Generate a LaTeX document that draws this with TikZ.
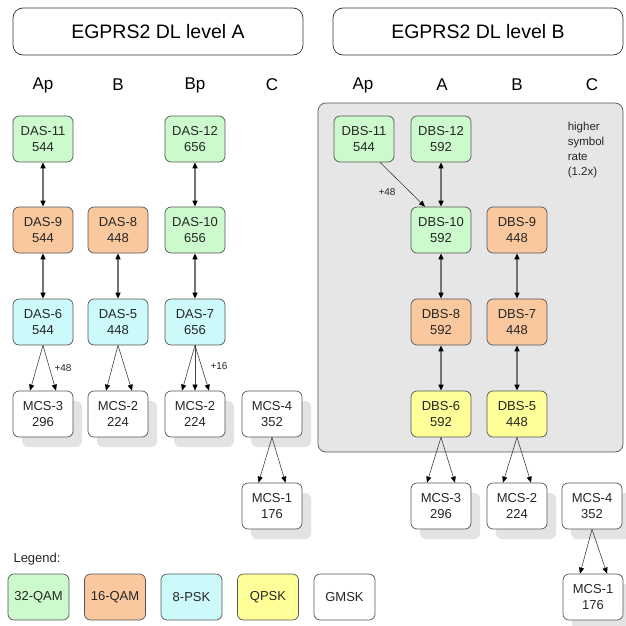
\documentclass[tikz,border=0pt]{standalone}
\usepackage{fontspec}
\setmainfont{Liberation Sans}
\usetikzlibrary{arrows.meta,shadows}

\definecolor{qamhi}{RGB}{204,250,204}
\definecolor{qamlo}{RGB}{250,200,158}
\definecolor{pskcol}{RGB}{204,250,250}
\definecolor{qpskcol}{RGB}{255,255,153}
\definecolor{panel}{RGB}{230,230,230}
\definecolor{rim}{RGB}{85,85,85}

\tikzset{
    cbox/.style={draw=rim, line width=0.7pt, rounded corners=6pt, minimum width=60pt,
        minimum height=46pt, align=center, text=black!85,
        font=\fontsize{13}{15.5}\selectfont},
    mcsbox/.style={cbox, fill=white,
        drop shadow={shadow xshift=9pt, shadow yshift=-10pt, fill=black!11, opacity=1}},
    titlebox/.style={draw=black!80, line width=0.7pt, rounded corners=10pt,
        minimum width=290pt, minimum height=47pt, font=\fontsize{19.5}{23}\selectfont},
    colhead/.style={font=\fontsize{17}{20}\selectfont},
    dbl/.style={<->, draw=black!55, line width=1.4pt},
    split/.style={->, draw=black!75, line width=0.6pt},
    gain/.style={font=\fontsize{10}{12}\selectfont, text=black!85}
}

\begin{document}
\begin{tikzpicture}[x=1pt, y=-1pt, >={Triangle[length=6pt,width=5pt,color=black]}]
        \useasboundingbox (0,0) rectangle (625,626);

        % titulos e colunas
        \node[titlebox] (tA) at (158,31.5) {EGPRS2 DL level A};
        \node[titlebox] (tB) at (478,31.5) {EGPRS2 DL level B};

        \node[colhead] (hAp) at (43,85) {Ap};
        \node[colhead] (hB) at (118,85) {B};
        \node[colhead] (hBp) at (195,85) {Bp};
        \node[colhead] (hC) at (272,85) {C};

        \node[colhead] (kAp) at (363,85) {Ap};
        \node[colhead] (kA) at (442,85) {A};
        \node[colhead] (kB) at (517,85) {B};
        \node[colhead] (kC) at (592,85) {C};

        \node[draw=rim, line width=0.7pt, fill=panel, rounded corners=8pt,
            minimum width=305pt, minimum height=349pt] (rate) at (470.5,277.5) {};
        \node[align=left, font=\fontsize{11.5}{15}\selectfont, text=black!85] (hint) at (586,150.5)
            {higher\\symbol\\rate\\(1.2x)};

        % level A
        \node[cbox, fill=qamhi] (d11) at (43,139) {DAS-11\\544};
        \node[cbox, fill=qamhi] (d12) at (195,139) {DAS-12\\656};
        \node[cbox, fill=qamlo] (d9) at (43,230) {DAS-9\\544};
        \node[cbox, fill=qamlo] (d8) at (118,230) {DAS-8\\448};
        \node[cbox, fill=qamhi] (d10) at (195,230) {DAS-10\\656};
        \node[cbox, fill=pskcol] (d6) at (43,322) {DAS-6\\544};
        \node[cbox, fill=pskcol] (d5) at (118,322) {DAS-5\\448};
        \node[cbox, fill=pskcol] (d7) at (195,322) {DAS-7\\656};

        \node[mcsbox] (m3a) at (43,414) {MCS-3\\296};
        \node[mcsbox] (m2a) at (118,414) {MCS-2\\224};
        \node[mcsbox] (m2b) at (195,414) {MCS-2\\224};
        \node[mcsbox] (m4a) at (272,414) {MCS-4\\352};
        \node[mcsbox] (m1a) at (272,506) {MCS-1\\176};

        \draw[dbl] (d11) -- (d9);
        \draw[dbl] (d9) -- (d6);
        \draw[dbl] (d8) -- (d5);
        \draw[dbl] (d12) -- (d10);
        \draw[dbl] (d10) -- (d7);

        \draw[split] (d6.south) -- ([xshift=-13pt]m3a.north);
        \draw[split] (d6.south) -- ([xshift=13pt]m3a.north);
        \draw[split] (d5.south) -- ([xshift=-12pt]m2a.north);
        \draw[split] (d5.south) -- ([xshift=14pt]m2a.north);
        \draw[split] (d7.south) -- ([xshift=-13pt]m2b.north);
        \draw[split] (d7.south) -- (m2b.north);
        \draw[split] (d7.south) -- ([xshift=14pt]m2b.north);
        \draw[split] (m4a.south) -- ([xshift=-13.5pt]m1a.north);
        \draw[split] (m4a.south) -- ([xshift=13.5pt]m1a.north);

        \node[gain] (g48a) at (63,368) {+48};
        \node[gain] (g16) at (219,366) {+16};

        % level B
        \node[cbox, fill=qamhi] (b11) at (364,139) {DBS-11\\544};
        \node[cbox, fill=qamhi] (b12) at (441,139) {DBS-12\\592};
        \node[cbox, fill=qamhi] (b10) at (441,230) {DBS-10\\592};
        \node[cbox, fill=qamlo] (b9) at (517,230) {DBS-9\\448};
        \node[cbox, fill=qamlo] (b8) at (441,322) {DBS-8\\592};
        \node[cbox, fill=qamlo] (b7) at (517,322) {DBS-7\\448};
        \node[cbox, fill=qpskcol] (b6) at (441,414) {DBS-6\\592};
        \node[cbox, fill=qpskcol] (b5) at (517,414) {DBS-5\\448};

        \node[mcsbox] (m3b) at (441,506) {MCS-3\\296};
        \node[mcsbox] (m2c) at (517,506) {MCS-2\\224};
        \node[mcsbox] (m4b) at (592,506) {MCS-4\\352};
        \node[mcsbox] (m1b) at (593,597) {MCS-1\\176};

        \draw[dbl] (b12) -- (b10);
        \draw[dbl] (b10) -- (b8);
        \draw[dbl] (b8) -- (b6);
        \draw[dbl] (b9) -- (b7);
        \draw[dbl] (b7) -- (b5);
        \draw[split] ([xshift=16pt]b11.south) -- ([xshift=-16pt]b10.north);
        \node[gain] (g48b) at (387,192) {+48};

        \draw[split] (b6.south) -- ([xshift=-14pt]m3b.north);
        \draw[split] (b6.south) -- ([xshift=14pt]m3b.north);
        \draw[split] (b5.south) -- ([xshift=-14pt]m2c.north);
        \draw[split] (b5.south) -- ([xshift=14pt]m2c.north);
        \draw[split] (m4b.south) -- ([xshift=-13pt]m1b.north);
        \draw[split] (m4b.south) -- ([xshift=14pt]m1b.north);

        % legenda
        \node[anchor=west, font=\fontsize{13}{15.5}\selectfont, text=black!85] (leg) at (10,559) {Legend:};
        \node[cbox, fill=qamhi, minimum width=61pt] (l1) at (38.5,597) {32-QAM};
        \node[cbox, fill=qamlo, minimum width=61pt] (l2) at (115,597) {16-QAM};
        \node[cbox, fill=pskcol, minimum width=61pt] (l3) at (191.5,597) {8-PSK};
        \node[cbox, fill=qpskcol, minimum width=61pt] (l4) at (268,597) {QPSK};
        \node[cbox, fill=white, minimum width=61pt] (l5) at (344.5,597) {GMSK};

    \end{tikzpicture}
\end{document}
